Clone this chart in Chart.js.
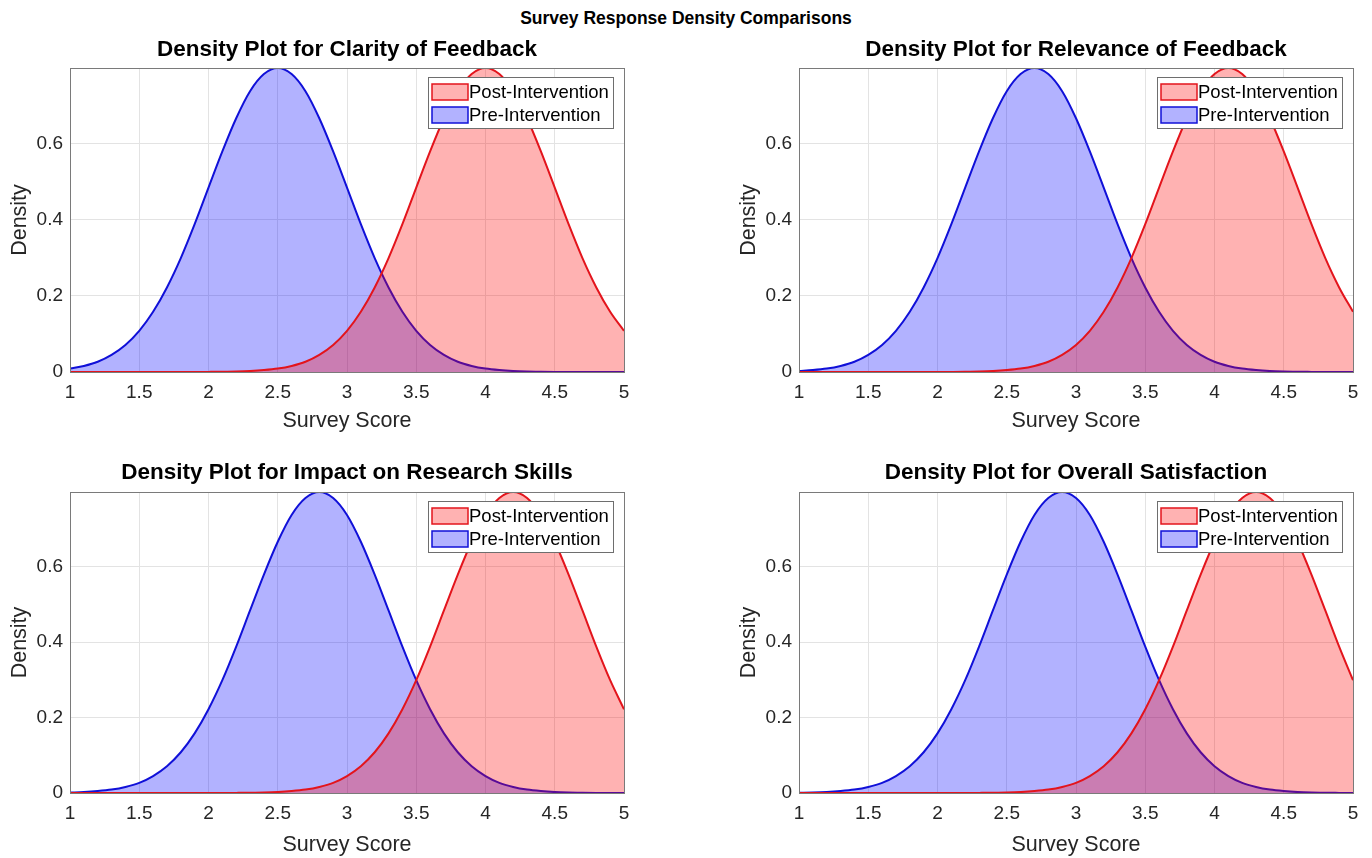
<!DOCTYPE html>
<html>
<head>
<meta charset="utf-8">
<title>Survey Response Density Comparisons</title>
<script src="https://cdn.jsdelivr.net/npm/chart.js@4.4.0/dist/chart.umd.min.js"></script>
<style>
    html, body { margin: 0; padding: 0; background: #fff; overflow: hidden; }
    body { width: 1372px; height: 858px; position: relative; font-family: "Liberation Sans", Arial, sans-serif; }
    #suptitle { position: absolute; left: 0; top: 8px; width: 1372px; text-align: center; font-weight: bold; font-size: 17.5px; line-height: 20px; color: #000; }
    .panel { position: absolute; }
</style>
</head>
<body>
<div id="suptitle">Survey Response Density Comparisons</div>
<div class="panel" style="left:0px;top:30px;width:660px;height:420px"><canvas id="c0"></canvas></div>
<div class="panel" style="left:729px;top:30px;width:643px;height:420px"><canvas id="c1"></canvas></div>
<div class="panel" style="left:0px;top:454px;width:660px;height:404px"><canvas id="c2"></canvas></div>
<div class="panel" style="left:729px;top:454px;width:643px;height:404px"><canvas id="c3"></canvas></div>
<script>
// Survey score grid (x axis) and tick labels
const scores = [1.0, 1.1, 1.2, 1.3, 1.4, 1.5, 1.6, 1.7, 1.8, 1.9,
                2.0, 2.1, 2.2, 2.3, 2.4, 2.5, 2.6, 2.7, 2.8, 2.9,
                3.0, 3.1, 3.2, 3.3, 3.4, 3.5, 3.6, 3.7, 3.8, 3.9,
                4.0, 4.1, 4.2, 4.3, 4.4, 4.5, 4.6, 4.7, 4.8, 4.9,
                5.0];
const xTicks = [1, 1.5, 2, 2.5, 3, 3.5, 4, 4.5, 5];
const yTicks = [0, 0.2, 0.4, 0.6];
const yMax = 0.798;

const panelTitles = [
    'Density Plot for Clarity of Feedback',
    'Density Plot for Relevance of Feedback',
    'Density Plot for Impact on Research Skills',
    'Density Plot for Overall Satisfaction'
];
const seriesNames = ['Post-Intervention', 'Pre-Intervention'];

// Density values
const clarityPost = [0, 0, 0, 0, 0, 0, 0, 0, 0, 0.0001,
    0.0003, 0.0006, 0.0012, 0.0025, 0.005, 0.009, 0.016, 0.027, 0.045, 0.071,
    0.108, 0.158, 0.222, 0.299, 0.388, 0.484, 0.579, 0.666, 0.737, 0.782,
    0.798, 0.782, 0.737, 0.666, 0.579, 0.484, 0.388, 0.299, 0.222, 0.158,
    0.108];
const clarityPre = [0.009, 0.016, 0.027, 0.045, 0.071, 0.108, 0.158, 0.222, 0.299, 0.388,
    0.484, 0.579, 0.666, 0.737, 0.782, 0.798, 0.782, 0.737, 0.666, 0.579,
    0.484, 0.388, 0.299, 0.222, 0.158, 0.108, 0.071, 0.045, 0.027, 0.016,
    0.009, 0.005, 0.0025, 0.0012, 0.0006, 0.0003, 0.0001, 0, 0, 0,
    0];

const relevancePost = [0, 0, 0, 0, 0, 0, 0, 0, 0, 0,
    0.0001, 0.0003, 0.0006, 0.0012, 0.0025, 0.005, 0.009, 0.016, 0.027, 0.045,
    0.071, 0.108, 0.158, 0.222, 0.299, 0.388, 0.484, 0.579, 0.666, 0.737,
    0.782, 0.798, 0.782, 0.737, 0.666, 0.579, 0.484, 0.388, 0.299, 0.222,
    0.158];
const relevancePre = [0.0025, 0.005, 0.009, 0.016, 0.027, 0.045, 0.071, 0.108, 0.158, 0.222,
    0.299, 0.388, 0.484, 0.579, 0.666, 0.737, 0.782, 0.798, 0.782, 0.737,
    0.666, 0.579, 0.484, 0.388, 0.299, 0.222, 0.158, 0.108, 0.071, 0.045,
    0.027, 0.016, 0.009, 0.005, 0.0025, 0.0012, 0.0006, 0.0003, 0.0001, 0,
    0];

const impactPost = [0, 0, 0, 0, 0, 0, 0, 0, 0, 0,
    0, 0.0001, 0.0003, 0.0006, 0.0012, 0.0025, 0.005, 0.009, 0.016, 0.027,
    0.045, 0.071, 0.108, 0.158, 0.222, 0.299, 0.388, 0.484, 0.579, 0.666,
    0.737, 0.782, 0.798, 0.782, 0.737, 0.666, 0.579, 0.484, 0.388, 0.299,
    0.222];
const impactPre = [0.0012, 0.0025, 0.005, 0.009, 0.016, 0.027, 0.045, 0.071, 0.108, 0.158,
    0.222, 0.299, 0.388, 0.484, 0.579, 0.666, 0.737, 0.782, 0.798, 0.782,
    0.737, 0.666, 0.579, 0.484, 0.388, 0.299, 0.222, 0.158, 0.108, 0.071,
    0.045, 0.027, 0.016, 0.009, 0.005, 0.0025, 0.0012, 0.0006, 0.0003, 0.0001,
    0];

const satisfactionPost = [0, 0, 0, 0, 0, 0, 0, 0, 0, 0,
    0, 0, 0.0001, 0.0003, 0.0006, 0.0012, 0.0025, 0.005, 0.009, 0.016,
    0.027, 0.045, 0.071, 0.108, 0.158, 0.222, 0.299, 0.388, 0.484, 0.579,
    0.666, 0.737, 0.782, 0.798, 0.782, 0.737, 0.666, 0.579, 0.484, 0.388,
    0.299];
const satisfactionPre = [0.0006, 0.0012, 0.0025, 0.005, 0.009, 0.016, 0.027, 0.045, 0.071, 0.108,
    0.158, 0.222, 0.299, 0.388, 0.484, 0.579, 0.666, 0.737, 0.782, 0.798,
    0.782, 0.737, 0.666, 0.579, 0.484, 0.388, 0.299, 0.222, 0.158, 0.108,
    0.071, 0.045, 0.027, 0.016, 0.009, 0.005, 0.0025, 0.0012, 0.0006, 0.0003,
    0.0001];

const postSeries = [clarityPost, relevancePost, impactPost, satisfactionPost];
const preSeries = [clarityPre, relevancePre, impactPre, satisfactionPre];

const FONT = '"Liberation Sans", Arial, Helvetica, sans-serif';
const postLine = '#e3141c';
const postFill = 'rgba(255, 0, 0, 0.3)';
const preLine = '#1010d8';
const preFill = 'rgba(0, 0, 255, 0.3)';

// Box around the plot area plus a MATLAB-like legend inside it
const boxAndLegend = {
    id: 'boxAndLegend',
    afterDatasetsDraw(chart) {
        const ctx = chart.ctx;
        const a = chart.chartArea;
        ctx.save();
        ctx.strokeStyle = '#7a7a7a';
        ctx.lineWidth = 1;
        ctx.strokeRect(Math.round(a.left) + 0.5, Math.round(a.top) + 0.5,
            Math.round(a.right - a.left), Math.round(a.bottom - a.top));

        const w = 185, h = 51;
        const lx = Math.round(a.right - 11 - w), ly = Math.round(a.top + 9);
        ctx.fillStyle = '#fff';
        ctx.fillRect(lx, ly, w, h);
        ctx.strokeStyle = '#6e6e6e';
        ctx.strokeRect(lx + 0.5, ly + 0.5, w, h);

        ctx.font = '18.5px ' + FONT;
        ctx.textBaseline = 'middle';
        chart.data.datasets.forEach((ds, i) => {
            const cy = ly + 15 + i * 23;
            ctx.fillStyle = ds.backgroundColor;
            ctx.fillRect(lx + 4, cy - 8, 36, 16);
            ctx.strokeStyle = ds.borderColor;
            ctx.lineWidth = 1.5;
            ctx.strokeRect(lx + 4, cy - 8, 36, 16);
            ctx.fillStyle = '#000';
            ctx.fillText(ds.label, lx + 41, cy + 1);
        });
        ctx.restore();
    }
};

function makeChart(i) {
    const isTop = i < 2;
    const isLeft = i % 2 === 0;
    const ctx = document.getElementById('c' + i).getContext('2d');
    return new Chart(ctx, {
        type: 'line',
        data: {
            datasets: [{
                label: seriesNames[0],
                data: scores.map((x, k) => ({ x: x, y: postSeries[i][k] })),
                borderColor: postLine,
                backgroundColor: postFill,
                borderWidth: 2,
                fill: 'origin',
                pointRadius: 0,
                cubicInterpolationMode: 'monotone'
            }, {
                label: seriesNames[1],
                data: scores.map((x, k) => ({ x: x, y: preSeries[i][k] })),
                borderColor: preLine,
                backgroundColor: preFill,
                borderWidth: 2,
                fill: 'origin',
                pointRadius: 0,
                cubicInterpolationMode: 'monotone'
            }]
        },
        options: {
            responsive: true,
            maintainAspectRatio: false,
            animation: false,
            layout: { padding: { left: 0, right: isLeft ? 36 : 19, top: 0, bottom: 0 } },
            plugins: {
                legend: { display: false },
                tooltip: { enabled: false },
                title: {
                    display: true,
                    fullSize: false,   // centre over the plot area, like MATLAB
                    text: panelTitles[i],
                    color: '#000',
                    font: { family: FONT, size: 22.5, weight: 'bold' },
                    padding: isTop ? { top: 6.5, bottom: 4.5 } : { top: 5.5, bottom: 5.5 }
                }
            },
            scales: {
                x: {
                    type: 'linear',
                    min: 1,
                    max: 5,
                    afterBuildTicks: s => { s.ticks = xTicks.map(v => ({ value: v })); },
                    afterFit: s => { s.height = isTop ? 78 : 65; },
                    ticks: {
                        color: '#262626',
                        font: { family: FONT, size: 19 },
                        padding: 9,
                        maxRotation: 0,
                        callback: v => String(v)
                    },
                    grid: { color: '#e3e3e3', drawTicks: false },
                    border: { display: false },
                    title: {
                        display: true,
                        text: 'Survey Score',
                        color: '#262626',
                        font: { family: FONT, size: 21.5 },
                        padding: { top: 0, bottom: isTop ? 16.1 : 0.1 }
                    }
                },
                y: {
                    min: 0,
                    max: yMax,
                    afterBuildTicks: s => { s.ticks = yTicks.map(v => ({ value: v })); },
                    afterFit: s => { s.width = 70; },
                    ticks: {
                        color: '#262626',
                        font: { family: FONT, size: 19 },
                        padding: 7,
                        callback: v => String(v)
                    },
                    grid: { color: '#e3e3e3', drawTicks: false },
                    border: { display: false },
                    title: {
                        display: true,
                        text: 'Density',
                        color: '#262626',
                        font: { family: FONT, size: 21.5 },
                        padding: { top: 7.1, bottom: 0 }
                    }
                }
            }
        },
        plugins: [boxAndLegend]
    });
}

const charts = [0, 1, 2, 3].map(makeChart);
</script>
</body>
</html>
